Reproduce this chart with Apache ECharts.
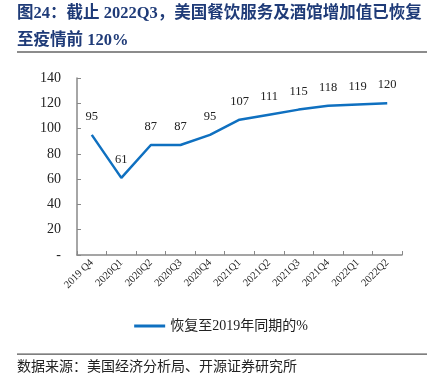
<!DOCTYPE html>
<html><head><meta charset="utf-8">
<script src="https://cdn.jsdelivr.net/npm/echarts@6/dist/echarts.min.js"></script>
<style>html,body{margin:0;padding:0;background:#fff}#c{width:442px;height:387px}</style>
</head><body><div id="c"></div>
<script>
const categories = ['2019 Q4','2020Q1','2020Q2','2020Q3','2020Q4','2021Q1','2021Q2','2021Q3','2021Q4','2022Q1','2022Q2'];
const recoveryValues = [95, 61, 87, 87, 95, 107, 111, 115, 118, 119, 120];
const seriesName = '恢复至2019年同期的%';
const titleLines = ['图24：截止 2022Q3，美国餐饮服务及酒馆增加值已恢复', '至疫情前 120%'];
const sourceText = '数据来源：美国经济分析局、开源证券研究所';

const serif = '"Liberation Serif","Times New Roman","Noto Sans CJK SC",serif';
const titleFont = 'bold 16.5px ' + serif;
const chart = echarts.init(document.getElementById('c'));
chart.setOption({
  animation: false,
  backgroundColor: '#fff',
  graphic: [
    { type: 'text', x: 17, y: 14, style: { text: titleLines[0], font: titleFont, fill: '#1F3B78', verticalAlign: 'middle' } },
    { type: 'text', x: 17, y: 41, style: { text: titleLines[1], font: titleFont, fill: '#1F3B78', verticalAlign: 'middle' } },
    { type: 'rect', shape: { x: 17, y: 51, width: 410, height: 2 }, style: { fill: '#8C8C8C' } },
    { type: 'rect', shape: { x: 17, y: 353.5, width: 410, height: 1.2 }, style: { fill: '#555' } },
    { type: 'text', x: 17, y: 366, style: { text: sourceText, font: '14px "Noto Sans CJK SC", sans-serif', fill: '#222', verticalAlign: 'middle' } }
  ],
  legend: {
    data: [seriesName],
    top: 314, left: 'center',
    icon: 'rect', itemWidth: 31, itemHeight: 3, itemGap: 5,
    textStyle: { fontFamily: serif, fontSize: 14, color: '#222' }
  },
  grid: { left: 77, right: 40, top: 78, bottom: 132, containLabel: false },
  xAxis: {
    type: 'category', data: categories, boundaryGap: true,
    axisLine: { lineStyle: { color: '#888', width: 1.5 } },
    axisTick: { show: true, inside: true, length: 4, lineStyle: { color: '#888' } },
    axisLabel: { rotate: 45, interval: 0, fontFamily: serif, fontSize: 10.5, color: '#222', margin: 6 }
  },
  yAxis: {
    type: 'value', min: 0, max: 140, interval: 20,
    axisLine: { show: true, lineStyle: { color: '#888', width: 1.5 } },
    axisTick: { show: true, inside: true, length: 4, lineStyle: { color: '#888' } },
    splitLine: { show: false },
    axisLabel: { fontFamily: serif, fontSize: 14, color: '#222', margin: 16,
      formatter: v => v === 0 ? '-' : v }
  },
  series: [{
    name: seriesName, type: 'line', data: recoveryValues,
    symbol: 'circle', symbolSize: 0.1, showSymbol: true,
    lineStyle: { color: '#0F70C0', width: 2.5 },
    itemStyle: { color: '#0F70C0' },
    label: { show: true, position: 'top', distance: 12, fontFamily: serif, fontSize: 12.5, color: '#222' }
  }]
});
</script></body></html>
